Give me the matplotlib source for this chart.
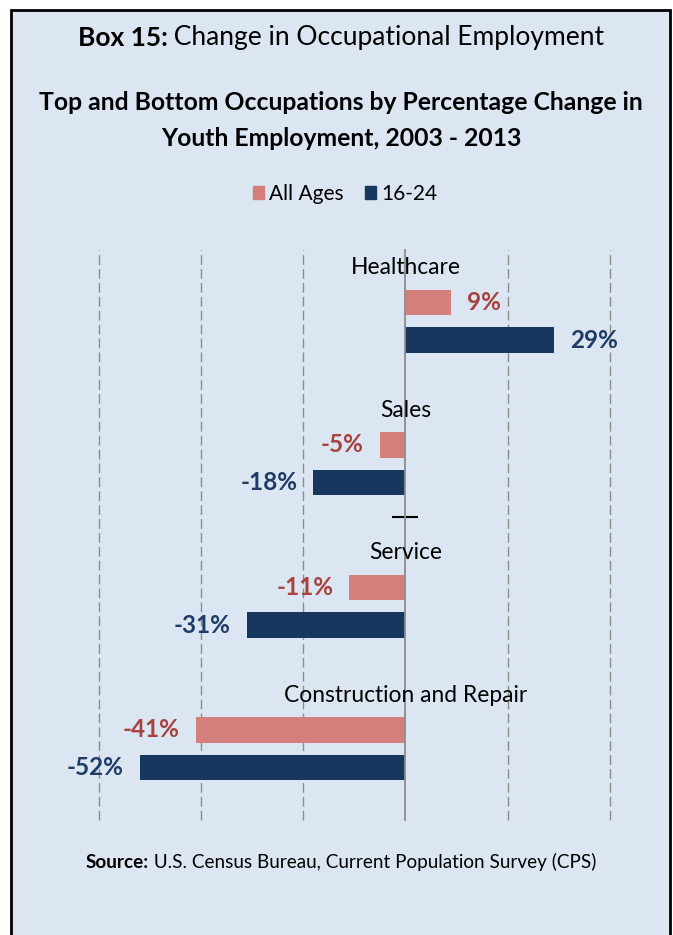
import numpy as np
import matplotlib
matplotlib.use("Agg")
import matplotlib.pyplot as plt
from matplotlib.patches import Patch, Rectangle

# data
occupations = ["Healthcare", "Sales", "Service", "Construction and Repair"]
all_ages = [9, -5, -11, -41]
youth = [29, -18, -31, -52]
series_names = ["All Ages", "16-24"]

PINK = "#d47f7b"
NAVY = "#17375e"
PINK_TXT = "#a8423f"
NAVY_TXT = "#1f3c66"
BG = "#dce6f2"

W, H = 673, 935
plt.rcParams["font.family"] = ["Lato", "DejaVu Sans"]

fig = plt.figure(figsize=(W / 100, H / 100), dpi=100)


def fx(px):
    return px / W


def fy(py):
    return 1 - py / H


# light blue box with black border (open at the bottom of the crop)
fig.patches.append(Rectangle((fx(11), -0.02), fx(670) - fx(11), fy(10) + 0.02,
                             transform=fig.transFigure, facecolor=BG,
                             edgecolor="black", linewidth=2.0, zorder=-10))

ax = fig.add_axes([fx(98.6), fy(820), fx(610) - fx(98.6), (820 - 250) / H])
ax.set_facecolor("none")

y = np.arange(len(occupations))
off = 0.133
bh = 0.179
b1 = ax.barh(y - off, all_ages, height=bh, color=PINK, zorder=3)
b2 = ax.barh(y + off, youth, height=bh, color=NAVY, zorder=3)

ax.set_xlim(-60, 40)
ax.set_ylim(3.5, -0.5)
ax.set_xticks([-60, -40, -20, 20, 40])
ax.grid(axis="x", color="#8c8c8c", linestyle=(0, (7, 3)), linewidth=1.0)
for gl in ax.get_xgridlines():
    gl.set_clip_on(False)
ax.tick_params(axis="x", length=0, labelbottom=False)

# zero line as the category axis, with its single tick
for s in ["top", "right", "bottom"]:
    ax.spines[s].set_visible(False)
ax.spines["left"].set_position(("data", 0))
ax.spines["left"].set_color("#8c8c8c")
ax.spines["left"].set_linewidth(1.3)
ax.spines["left"].set_zorder(4)
ax.set_yticks([1.375])
ax.tick_params(axis="y", direction="inout", length=19, width=1.5,
               color="black", labelleft=False)

for i, name in enumerate(occupations):
    ax.text(0, i - 0.377, name, ha="center", va="center", fontsize=16.4,
            color="black", zorder=5)

for bars, vals, col in [(b1, all_ages, PINK_TXT), (b2, youth, NAVY_TXT)]:
    for bar, v in zip(bars, vals):
        yc = bar.get_y() + bar.get_height() / 2
        ax.annotate(f"{v}%", (v, yc), xytext=(11.5 if v > 0 else -11.5, 0),
                    textcoords="offset points", ha="left" if v > 0 else "right",
                    va="center", fontsize=17.5, fontweight="bold", color=col,
                    annotation_clip=False)

# titles
fig.canvas.draw()
r = fig.canvas.get_renderer()


def two_part(bold, rest, cx, cy, size):
    t1 = fig.text(0, 0, bold, fontsize=size, fontweight="bold", va="center")
    t2 = fig.text(0, 0, rest, fontsize=size, va="center")
    w1 = t1.get_window_extent(r).width
    w2 = t2.get_window_extent(r).width
    x0 = cx - (w1 + w2) / 2
    t1.set_position((fx(x0), fy(cy)))
    t2.set_position((fx(x0 + w1), fy(cy)))


two_part("Box 15:", " Change in Occupational Employment", 341, 38, 19)
fig.text(fx(341), fy(102), "Top and Bottom Occupations by Percentage Change in",
         ha="center", va="center", fontsize=17.8, fontweight="bold")
fig.text(fx(341), fy(139), "Youth Employment, 2003 - 2013",
         ha="center", va="center", fontsize=17.8, fontweight="bold")

handles = [Patch(color=PINK), Patch(color=NAVY)]
fig.legend(handles, series_names, loc="center", bbox_to_anchor=(fx(345), fy(194)),
           ncol=2, frameon=False, fontsize=15, handlelength=0.55, handleheight=0.55,
           handletextpad=0.25, columnspacing=1.0)

two_part("Source:", " U.S. Census Bureau, Current Population Survey (CPS)", 341, 862, 13.6)

fig.savefig("out.png", dpi=100)
